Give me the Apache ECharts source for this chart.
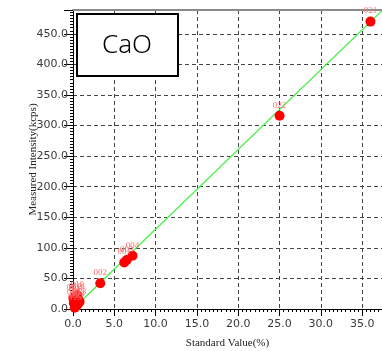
<!DOCTYPE html>
<html>
<head>
<meta charset="utf-8">
<script src="https://cdn.jsdelivr.net/npm/echarts@6/dist/echarts.min.js"></script>
<style>
  html, body { margin: 0; padding: 0; background: #fff; }
  #chart { width: 382px; height: 351px; }
</style>
</head>
<body>
<div id="chart"></div>
<script>
// standards: x = standard value (%), y = measured intensity (kcps)
const sampleNames = ['021', '022', '002', '001', '003', '004',
  '010', '011', '012', '013', '014', '015', '016', '017', '018', '019']
const standardValues = [36.0, 25.0, 3.3, 6.2, 6.5, 7.2,
  0.5, 0.05, 0.3, 0.8, 0.6, 0.4, 0.2, 0.1, 0.3, 0.6]
const intensities = [470, 316, 42, 76, 80, 87,
  23, 17, 20, 12, 8, 5, 2, 10, 14, 17]
// regression line end points
const fitX = [0, 37.4]
const fitY = [0, 488]

const xTicks = [0, 5, 10, 15, 20, 25, 30, 35]
const yTicks = [0, 50, 100, 150, 200, 250, 300, 350, 400, 450]

const points = standardValues.map((v, i) => ({
  value: [v, intensities[i]],
  name: sampleNames[i],
}))

const chart = echarts.init(document.getElementById('chart'))

const tickLabel = {
  color: '#3a3a3a',
  fontFamily: 'Tahoma, "DejaVu Sans", sans-serif',
  fontSize: 11,
  formatter: v => v.toFixed(1),
}
const dashed = { show: true, lineStyle: { color: '#444', type: [4, 3], width: 1 } }

chart.setOption({
  animation: false,
  grid: { left: 73, top: 10, right: 0, bottom: 42, outerBoundsMode: 'none' },
  xAxis: [
    {
      type: 'value',
      min: xTicks[0],
      max: 37.4,
      interval: 5,
      name: 'Standard Value(%)',
      nameLocation: 'middle',
      nameGap: 29,
      nameMoveOverlap: false,
      nameTextStyle: { fontFamily: '"Liberation Serif", serif', fontSize: 11, color: '#222' },
      axisLine: { lineStyle: { color: '#000', width: 1 } },
      axisTick: { length: 7, lineStyle: { color: '#000' } },
      minorTick: { show: true, splitNumber: 10, length: 3, lineStyle: { color: '#000' } },
      axisLabel: { ...tickLabel, margin: 10, showMaxLabel: false },
      splitLine: dashed,
    },
    {
      type: 'value',
      position: 'top',
      min: 0,
      max: 37.4,
      axisLine: { show: true, onZero: false, lineStyle: { color: '#8a8a8a', width: 2 } },
      axisTick: { show: false },
      axisLabel: { show: false },
      splitLine: { show: false },
    },
  ],
  yAxis: {
    type: 'value',
    min: yTicks[0],
    max: 489,
    interval: 50,
    name: 'Measured Intensity(kcps)',
    nameLocation: 'middle',
    nameGap: 34,
    nameMoveOverlap: false,
    nameTextStyle: { fontFamily: '"Liberation Serif", serif', fontSize: 11, color: '#222' },
    axisLine: { show: true, lineStyle: { color: '#000', width: 1 } },
    axisTick: { show: true, length: 9, lineStyle: { color: '#000' } },
    minorTick: { show: true, splitNumber: 10, length: 3, lineStyle: { color: '#000' } },
    axisLabel: { ...tickLabel, margin: 5, showMaxLabel: false },
    splitLine: dashed,
  },
  series: [
    {
      type: 'line',
      data: fitX.map((x, i) => [x, fitY[i]]),
      symbol: 'none',
      lineStyle: { color: '#44f044', width: 1.3 },
      z: 2,
    },
    {
      type: 'scatter',
      data: points,
      symbolSize: 10,
      itemStyle: { color: '#ff0000', opacity: 1 },
      label: {
        show: true,
        position: 'top',
        distance: 1,
        formatter: p => p.name,
        color: '#ff6f6f',
        fontFamily: '"Liberation Serif", serif',
        fontSize: 9,
      },
      labelLayout: { hideOverlap: false },
      z: 3,
    },
  ],
  graphic: [
    {
      type: 'rect',
      shape: { x: 77, y: 14, width: 101, height: 62 },
      style: { fill: '#fff', stroke: '#000', lineWidth: 2 },
      z: 100,
    },
    {
      type: 'text',
      x: 127, y: 46,
      style: {
        text: 'CaO',
        fontSize: 26,
        fontWeight: 300,
        fontFamily: '"Noto Sans", sans-serif',
        fill: '#000',
        align: 'center',
        verticalAlign: 'middle',
      },
      z: 101,
    },
  ],
})
</script>
</body>
</html>
